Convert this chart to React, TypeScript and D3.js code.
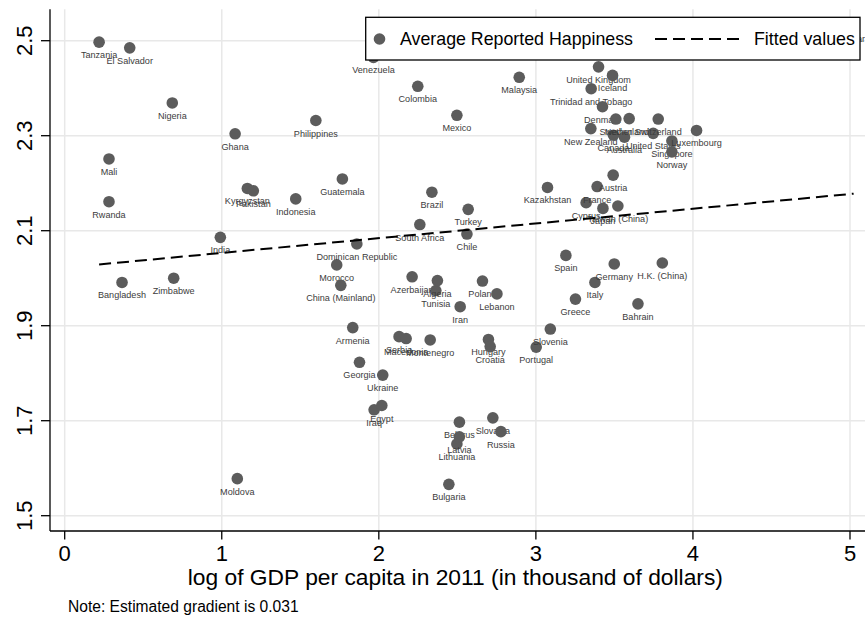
import React from "react";
import * as d3 from "d3";

const countries = [
  "Tanzania","El Salvador","Nigeria","Philippines","Ghana","Mali","Rwanda","Guatemala","Kyrgyzstan","Pakistan",
  "Indonesia","India","Venezuela","Colombia","Malaysia","Mexico","Brazil","Turkey","South Africa","Chile",
  "Kazakhstan","Dominican Republic","United Kingdom","Iceland","Trinidad and Tobago","Denmark","Sweden","Netherlands","Switzerland","New Zealand",
  "Luxembourg","Canada","Australia","United States","Singapore","Norway","Austria","France","Cyprus","Japan",
  "Taiwan (China)","Bangladesh","Zimbabwe","Morocco","China (Mainland)","Armenia","Georgia","Azerbaijan","Algeria","Tunisia",
  "Poland","Lebanon","Iran","Serbia","Macedonia","Montenegro","Hungary","Croatia","Slovenia","Portugal",
  "Ukraine","Spain","Germany","H.K. (China)","Italy","Greece","Bahrain","Egypt","Iraq","Belarus",
  "Latvia","Lithuania","Slovakia","Russia","Moldova","Bulgaria","Qatar"
];
const logGdp = [
  0.219,0.414,0.685,1.599,1.085,0.282,0.282,1.768,1.163,1.201,
  1.471,0.991,1.966,2.248,2.894,2.497,2.338,2.569,2.261,2.561,
  3.074,1.860,3.399,3.488,3.352,3.424,3.509,3.594,3.779,3.350,
  4.023,3.494,3.564,3.747,3.866,3.866,3.492,3.390,3.320,3.427,
  3.522,0.365,0.694,1.732,1.758,1.834,1.877,2.212,2.373,2.363,
  2.660,2.752,2.518,2.129,2.174,2.327,2.698,2.709,3.092,3.002,
  2.025,3.191,3.499,3.805,3.376,3.252,3.650,2.019,1.970,2.513,
  2.513,2.497,2.726,2.777,1.099,2.446,5.023
];
const happiness = [
  2.497,2.485,2.369,2.332,2.304,2.251,2.161,2.209,2.189,2.184,
  2.167,2.086,2.465,2.404,2.423,2.343,2.181,2.145,2.113,2.093,
  2.191,2.072,2.445,2.427,2.399,2.361,2.335,2.336,2.335,2.315,
  2.311,2.301,2.297,2.305,2.289,2.266,2.217,2.193,2.159,2.147,
  2.152,1.991,2.000,2.028,1.985,1.896,1.823,2.003,1.995,1.974,
  1.994,1.967,1.940,1.877,1.873,1.870,1.871,1.856,1.893,1.855,
  1.796,2.048,2.030,2.032,1.991,1.956,1.946,1.732,1.723,1.697,
  1.666,1.651,1.706,1.677,1.578,1.566,2.531
];
const xTicks = [0, 1, 2, 3, 4, 5];
const yTicks = [1.5, 1.7, 1.9, 2.1, 2.3, 2.5];
const fitIntercept = 2.0222;
const fitSlope = 0.031;
const xTitle = "log of GDP per capita in 2011 (in thousand of dollars)";
const note = "Note: Estimated gradient is 0.031";
const legendLabels = ["Average Reported Happiness", "Fitted values"];

const FONT = "'Liberation Sans', Arial, Helvetica, sans-serif";

export default function App() {
  const W = 865, H = 620;
  const x = d3.scaleLinear().domain([0, 5]).range([64.7, 850]);
  const y = d3.scaleLinear().domain([1.5, 2.5]).range([515.7, 40.7]);
  const left = 50, top = 9.3, bottom = 531, right = W;

  const pts = countries.map((c, i) => ({ c, gx: logGdp[i], hy: happiness[i] }))
    .sort((a, b) => a.gx - b.gx);

  const [xmin, xmax] = d3.extent(logGdp) as [number, number];
  const line = d3.line<number>().x(d => x(d)).y(d => y(fitIntercept + fitSlope * d));

  return (
    <div style={{ position: "absolute", left: 0, top: 0 }}>
      <svg width={W} height={H} style={{ display: "block", background: "#fff" }} fontFamily={FONT}>
        <rect x={0} y={0} width={W} height={H} fill="#fff" />
        {/* grid */}
        {yTicks.map(t => (
          <line key={"gy" + t} x1={left} x2={right} y1={y(t)} y2={y(t)} stroke="#e8e8e8" strokeWidth={1.5} />
        ))}
        {xTicks.map(t => (
          <line key={"gx" + t} x1={x(t)} x2={x(t)} y1={top} y2={bottom} stroke="#e8e8e8" strokeWidth={1.5} />
        ))}
        {/* points */}
        {pts.map(p => (
          <g key={p.c}>
            <circle cx={x(p.gx)} cy={y(p.hy)} r={5.8} fill="#5c5c5c" />
            <text x={x(p.gx)} y={y(p.hy) + 16} textAnchor="middle" fontSize={9.1} fill="#3c3c3c">{p.c}</text>
          </g>
        ))}
        {/* fitted line */}
        <path d={line([xmin, xmax]) || ""} fill="none" stroke="#000" strokeWidth={2} strokeDasharray="12,6" />
        {/* axes */}
        <line x1={left} x2={left} y1={top} y2={bottom} stroke="#000" strokeWidth={1.3} />
        <line x1={left} x2={right} y1={bottom} y2={bottom} stroke="#000" strokeWidth={1.3} />
        {yTicks.map(t => (
          <g key={"yt" + t}>
            <line x1={left - 9} x2={left} y1={y(t)} y2={y(t)} stroke="#000" strokeWidth={1.3} />
            <text transform={`translate(31.5,${y(t)}) rotate(-90)`} textAnchor="middle" fontSize={22} fill="#000">{t.toFixed(1)}</text>
          </g>
        ))}
        {xTicks.map(t => (
          <g key={"xt" + t}>
            <line x1={x(t)} x2={x(t)} y1={bottom} y2={bottom + 8.5} stroke="#000" strokeWidth={1.3} />
            <text x={x(t)} y={561} textAnchor="middle" fontSize={22} fill="#000">{t}</text>
          </g>
        ))}
        <text x={(x(0) + x(5)) / 2 - 2} y={585} textAnchor="middle" fontSize={22.8} fill="#000">{xTitle}</text>
        <text x={68} y={612} fontSize={15.6} fill="#000">{note}</text>
        {/* legend */}
        <rect x={365.7} y={17.3} width={494.3} height={42.7} fill="#fff" stroke="#000" strokeWidth={1.3} />
        <circle cx={379.5} cy={39} r={5.8} fill="#5c5c5c" />
        <text x={400} y={45.3} fontSize={17.8} fill="#000">{legendLabels[0]}</text>
        <line x1={655} x2={741} y1={39} y2={39} stroke="#000" strokeWidth={2} strokeDasharray="12,6" />
        <text x={754} y={45.3} fontSize={17.8} fill="#000">{legendLabels[1]}</text>
      </svg>
    </div>
  );
}
